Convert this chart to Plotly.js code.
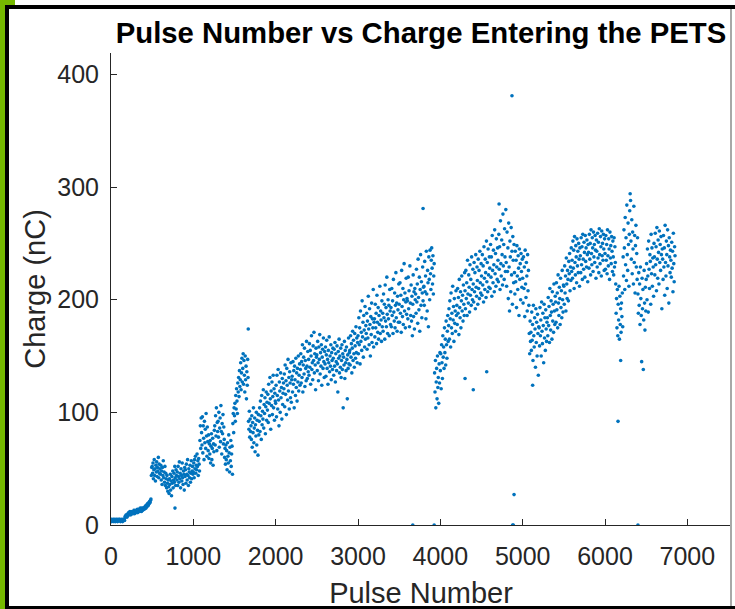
<!DOCTYPE html>
<html>
<head>
<meta charset="utf-8">
<script src="https://cdn.plot.ly/plotly-3.0.1.min.js"></script>
<style>
  html, body { margin: 0; padding: 0; background: #ffffff; }
  #wrap { position: relative; width: 735px; height: 609px; overflow: hidden; }
  #chart { position: absolute; left: 0; top: 0; width: 735px; height: 609px; }
  .edge { position: absolute; pointer-events: none; }
</style>
</head>
<body>
<div id="wrap">
  <div id="chart"></div>
  <div class="edge" style="left:0;top:0;width:5px;height:609px;background:#76b900;"></div>
  <div class="edge" style="left:0;top:0;width:15px;height:5px;background:#76b900;"></div>
  <div class="edge" style="left:5px;top:5px;width:730px;height:4px;background:#000;"></div>
  <div class="edge" style="left:5px;top:5px;width:4px;height:604px;background:#000;"></div>
  <div class="edge" style="left:5px;top:606px;width:730px;height:3px;background:#000;"></div>
  <div class="edge" style="left:730px;top:9px;width:2px;height:597px;background:#a8a8a8;"></div>
</div>
<script>
// Pulse numbers and measured charge (nC), grouped in blocks of 1000 pulses.
const pulse0 = [
  0,5,10,15,20,25,30,35,40,45,50,55,60,65,70,75,80,85,90,95,
  100,105,110,115,120,125,130,135,140,145,150,155,160,165,170,175,180,185,190,195,
  200,205,210,215,220,225,230,235,240,245,250,255,260,265,270,275,280,285,290,295,
  300,305,310,315,320,325,330,335,340,345,350,355,360,365,370,375,380,385,390,395,
  400,405,410,415,420,425,430,435,440,445,450,455,460,465,470,475,480,485,490,495,
  500,505,510,515,520,525,530,535,540,545,550,555,560,565,570,575,580,585,590,595,
  600,605,610,615,620,625,630,635,640,645,650,655,660,665,670,675,680,685,690,695,
  700,705,710,715,720,725,730,735,740,745,750,755,760,765,770,775,780,785,790,795,
  800,805,810,815,820,825,830,835,840,845,850,855,860,865,870,875,880,885,890,895,
  900,905,910,915,920,925,930,935,940,945,950,955,960,965,970,975,980,985,990,995
];
const charge0 = [
  4,5,3,4,4,5,4,3,5,4,4,3,5,4,4,5,3,4,4,5,
  4,5,4,3,4,5,4,4,3,5,4,4,5,4,7,8,7,9,8,7,
  8,10,9,11,9,10,12,10,9,11,10,12,11,10,12,11,13,10,12,11,
  12,11,13,12,14,11,13,12,14,13,12,15,13,14,12,15,14,13,15,14,
  15,14,16,15,17,15,16,18,17,19,17,18,20,19,21,20,22,23,44,51,
  52,46,55,41,49,58,44,50,39,53,47,56,43,51,48,60,42,54,46,50,
  45,53,40,48,36,51,44,57,42,47,38,52,35,46,41,33,44,37,30,40,
  34,28,41,36,45,31,39,26,43,37,48,33,40,46,38,52,42,35,49,44,
  40,47,35,52,43,38,56,41,46,33,50,44,39,55,42,36,48,45,31,51,
  43,49,37,54,45,40,58,44,35,50,47,42,53,38,46,57,41,48,52,45
];

const pulse1 = [
  1000,1005,1010,1015,1020,1025,1030,1035,1040,1045,1050,1055,1060,1065,1070,1075,1080,1085,1090,1095,
  1100,1105,1110,1115,1120,1125,1130,1135,1140,1145,1150,1155,1160,1165,1170,1175,1180,1185,1190,1195,
  1200,1205,1210,1215,1220,1225,1230,1235,1240,1245,1250,1255,1260,1265,1270,1275,1280,1285,1290,1295,
  1300,1305,1310,1315,1320,1325,1330,1335,1340,1345,1350,1355,1360,1365,1370,1375,1380,1385,1390,1395,
  1400,1405,1410,1415,1420,1425,1430,1435,1440,1445,1450,1455,1460,1465,1470,1475,1480,1485,1490,1495,
  1500,1505,1510,1515,1520,1525,1530,1535,1540,1545,1550,1555,1560,1565,1570,1575,1580,1585,1590,1595,
  1600,1605,1610,1615,1620,1625,1630,1635,1640,1645,1650,1655,1660,1665,1670,1675,1680,1685,1690,1695,
  1700,1705,1710,1715,1720,1725,1730,1735,1740,1745,1750,1755,1760,1765,1770,1775,1780,1785,1790,1795,
  1800,1805,1810,1815,1820,1825,1830,1835,1840,1845,1850,1855,1860,1865,1870,1875,1880,1885,1890,1895,
  1900,1905,1910,1915,1920,1925,1930,1935,1940,1945,1950,1955,1960,1965,1970,1975,1980,1985,1990,1995
];
const charge1 = [
  47,55,42,58,50,61,46,53,49,63,52,57,44,59,54,48,75,88,68,95,
  82,71,96,64,88,77,58,92,73,85,68,99,79,61,87,74,66,80,59,72,
  63,75,55,70,81,58,68,77,53,72,65,84,88,71,97,79,104,66,91,83,
  92,78,100,69,86,95,74,106,83,63,90,81,98,72,87,76,60,68,54,71,
  58,66,49,73,61,55,80,64,47,69,57,75,52,63,70,45,90,99,82,104,
  97,108,92,115,103,121,110,99,126,118,131,114,137,123,129,144,120,135,148,127,
  139,152,125,146,133,118,150,129,141,112,136,124,147,131,92,85,101,78,94,83,
  88,76,97,69,91,82,104,73,86,95,65,89,79,100,71,93,84,62,98,80,
  92,104,83,110,97,76,115,89,101,94,120,86,107,99,113,81,105,118,93,109,
  102,116,91,125,108,97,131,112,85,119,106,127,98,114,133,104,121,93,117,110
];

const pulse2 = [
  2000,2005,2010,2015,2020,2025,2030,2035,2040,2045,2050,2055,2060,2065,2070,2075,2080,2085,2090,2095,
  2100,2105,2110,2115,2120,2125,2130,2135,2140,2145,2150,2155,2160,2165,2170,2175,2180,2185,2190,2195,
  2200,2205,2210,2215,2220,2225,2230,2235,2240,2245,2250,2255,2260,2265,2270,2275,2280,2285,2290,2295,
  2300,2305,2310,2315,2320,2325,2330,2335,2340,2345,2350,2355,2360,2365,2370,2375,2380,2385,2390,2395,
  2400,2405,2410,2415,2420,2425,2430,2435,2440,2445,2450,2455,2460,2465,2470,2475,2480,2485,2490,2495,
  2500,2505,2510,2515,2520,2525,2530,2535,2540,2545,2550,2555,2560,2565,2570,2575,2580,2585,2590,2595,
  2600,2605,2610,2615,2620,2625,2630,2635,2640,2645,2650,2655,2660,2665,2670,2675,2680,2685,2690,2695,
  2700,2705,2710,2715,2720,2725,2730,2735,2740,2745,2750,2755,2760,2765,2770,2775,2780,2785,2790,2795,
  2800,2805,2810,2815,2820,2825,2830,2835,2840,2845,2850,2855,2860,2865,2870,2875,2880,2885,2890,2895,
  2900,2905,2910,2915,2920,2925,2930,2935,2940,2945,2950,2955,2960,2965,2970,2975,2980,2985,2990,2995
];
const charge2 = [
  108,124,96,133,115,103,138,111,88,127,119,100,135,113,122,94,130,107,117,126,
  121,134,105,142,116,128,98,139,124,111,147,119,131,103,136,126,113,144,109,129,
  132,118,145,125,137,104,141,129,115,148,122,135,110,139,127,150,119,133,143,124,
  138,152,126,145,131,160,118,142,149,134,157,123,146,139,128,163,141,130,154,136,
  147,133,161,140,155,125,150,168,138,144,129,159,146,171,135,152,142,120,157,149,
  151,137,163,144,128,158,147,169,134,153,141,160,124,149,156,139,166,145,131,154,
  143,158,132,151,164,139,147,125,155,144,167,136,150,141,160,129,153,146,138,157,
  148,133,156,141,162,127,152,145,137,159,143,118,154,148,165,135,150,140,157,131,
  146,160,138,152,104,149,142,163,130,155,144,137,158,147,112,151,139,166,143,153,
  155,142,168,149,161,135,157,172,146,164,152,140,170,159,148,176,153,166,144,162
];

const pulse3 = [
  3000,3005,3010,3015,3020,3025,3030,3035,3040,3045,3050,3055,3060,3065,3070,3075,3080,3085,3090,3095,
  3100,3105,3110,3115,3120,3125,3130,3135,3140,3145,3150,3155,3160,3165,3170,3175,3180,3185,3190,3195,
  3200,3205,3210,3215,3220,3225,3230,3235,3240,3245,3250,3255,3260,3265,3270,3275,3280,3285,3290,3295,
  3300,3305,3310,3315,3320,3325,3330,3335,3340,3345,3350,3355,3360,3365,3370,3375,3380,3385,3390,3395,
  3400,3405,3410,3415,3420,3425,3430,3435,3440,3445,3450,3455,3460,3465,3470,3475,3480,3485,3490,3495,
  3500,3505,3510,3515,3520,3525,3530,3535,3540,3545,3550,3555,3560,3565,3570,3575,3580,3585,3590,3595,
  3600,3605,3610,3615,3620,3625,3630,3635,3640,3645,3650,3655,3660,3665,3670,3675,3680,3685,3690,3695,
  3700,3705,3710,3715,3720,3725,3730,3735,3740,3745,3750,3755,3760,3765,3770,3775,3780,3785,3790,3795,
  3800,3805,3810,3815,3820,3825,3830,3835,3840,3845,3850,3855,3860,3865,3870,3875,3880,3885,3890,3895,
  3900,3905,3910,3915,3920,3925,3930,3935,3940,3945,3950,3955,3960,3965,3970,3975,3980,3985,3990,3995
];
const charge3 = [
  168,152,184,160,175,143,190,163,171,155,199,167,180,149,186,173,158,194,165,177,
  170,188,156,181,166,203,174,160,192,178,150,185,169,197,162,183,175,209,158,180,
  183,167,196,175,188,161,204,180,171,193,165,186,178,212,170,190,182,163,199,176,
  188,172,205,184,196,165,213,181,193,176,220,187,170,200,183,195,168,209,190,178,
  193,176,210,186,199,170,218,189,181,206,175,195,224,184,197,172,203,191,180,214,
  196,180,215,188,204,171,226,194,185,210,178,200,232,190,206,175,198,219,187,201,
  199,183,220,192,208,176,230,197,186,213,181,203,168,196,222,185,207,174,210,200,
  205,188,227,198,214,179,236,202,191,220,172,209,240,195,216,184,206,229,199,211,
  212,195,234,207,221,183,243,205,190,226,215,176,238,218,200,244,223,209,235,246,
  228,214,239,205,221,232,135,118,146,104,127,139,112,150,122,131,108,143,126,153
];

const pulse4 = [
  4000,4005,4010,4015,4020,4025,4030,4035,4040,4045,4050,4055,4060,4065,4070,4075,4080,4085,4090,4095,
  4100,4105,4110,4115,4120,4125,4130,4135,4140,4145,4150,4155,4160,4165,4170,4175,4180,4185,4190,4195,
  4200,4205,4210,4215,4220,4225,4230,4235,4240,4245,4250,4255,4260,4265,4270,4275,4280,4285,4290,4295,
  4300,4305,4310,4315,4320,4325,4330,4335,4340,4345,4350,4355,4360,4365,4370,4375,4380,4385,4390,4395,
  4400,4405,4410,4415,4420,4425,4430,4435,4440,4445,4450,4455,4460,4465,4470,4475,4480,4485,4490,4495,
  4500,4505,4510,4515,4520,4525,4530,4535,4540,4545,4550,4555,4560,4565,4570,4575,4580,4585,4590,4595,
  4600,4605,4610,4615,4620,4625,4630,4635,4640,4645,4650,4655,4660,4665,4670,4675,4680,4685,4690,4695,
  4700,4705,4710,4715,4720,4725,4730,4735,4740,4745,4750,4755,4760,4765,4770,4775,4780,4785,4790,4795,
  4800,4805,4810,4815,4820,4825,4830,4835,4840,4845,4850,4855,4860,4865,4870,4875,4880,4885,4890,4895,
  4900,4905,4910,4915,4920,4925,4930,4935,4940,4945,4950,4955,4960,4965,4970,4975,4980,4985,4990,4995
];
const charge4 = [
  137,152,121,160,144,130,168,149,158,139,175,153,165,142,181,160,148,172,186,163,
  177,192,165,199,183,158,206,175,188,170,212,182,194,163,201,179,190,172,208,186,
  195,178,210,188,202,169,218,193,184,207,175,199,221,190,204,181,213,196,186,224,
  208,192,226,201,215,186,235,205,197,222,211,189,231,204,218,195,238,209,200,227,
  214,198,233,207,224,192,240,211,203,229,217,196,236,210,226,201,243,215,206,232,
  221,204,240,213,230,198,247,219,209,236,224,202,252,216,233,207,245,222,211,238,
  228,210,249,220,238,203,257,226,215,244,231,207,262,223,241,212,254,229,218,246,
  235,216,258,227,247,209,270,232,221,253,240,213,276,230,249,218,263,238,225,280,
  233,212,260,225,246,201,268,229,190,252,238,207,264,222,243,196,256,235,215,249,
  224,205,243,216,235,193,248,221,209,239,228,186,245,218,232,200,241,225,211,236
];

const pulse5 = [
  5000,5005,5010,5015,5020,5025,5030,5035,5040,5045,5050,5055,5060,5065,5070,5075,5080,5085,5090,5095,
  5100,5105,5110,5115,5120,5125,5130,5135,5140,5145,5150,5155,5160,5165,5170,5175,5180,5185,5190,5195,
  5200,5205,5210,5215,5220,5225,5230,5235,5240,5245,5250,5255,5260,5265,5270,5275,5280,5285,5290,5295,
  5300,5305,5310,5315,5320,5325,5330,5335,5340,5345,5350,5355,5360,5365,5370,5375,5380,5385,5390,5395,
  5400,5405,5410,5415,5420,5425,5430,5435,5440,5445,5450,5455,5460,5465,5470,5475,5480,5485,5490,5495,
  5500,5505,5510,5515,5520,5525,5530,5535,5540,5545,5550,5555,5560,5565,5570,5575,5580,5585,5590,5595,
  5600,5605,5610,5615,5620,5625,5630,5635,5640,5645,5650,5655,5660,5665,5670,5675,5680,5685,5690,5695,
  5700,5705,5710,5715,5720,5725,5730,5735,5740,5745,5750,5755,5760,5765,5770,5775,5780,5785,5790,5795,
  5800,5805,5810,5815,5820,5825,5830,5835,5840,5845,5850,5855,5860,5865,5870,5875,5880,5885,5890,5895,
  5900,5905,5910,5915,5920,5925,5930,5935,5940,5945,5950,5955,5960,5965,5970,5975,5980,5985,5990,5995
];
const charge5 = [
  219,197,238,210,229,185,244,214,202,233,221,190,240,208,226,195,170,152,181,163,
  171,155,189,164,178,146,195,168,158,184,174,140,192,162,180,150,187,170,133,176,
  175,159,193,168,182,150,198,172,161,188,177,144,196,166,184,155,191,174,163,180,
  184,168,202,177,194,162,210,186,173,199,189,165,207,181,196,171,214,190,178,203,
  198,180,215,191,206,175,222,197,186,211,201,178,219,193,208,184,226,200,189,213,
  212,196,230,206,221,190,237,214,201,226,218,199,234,223,241,208,229,217,246,225,
  235,219,252,228,244,210,256,233,222,248,238,215,254,230,243,224,250,236,212,246,
  239,224,255,231,247,218,258,236,227,251,242,220,257,234,246,229,253,240,216,249,
  242,228,258,236,250,222,262,241,231,255,246,225,260,238,249,233,257,244,219,253,
  243,229,259,237,251,224,263,240,232,256,247,221,261,239,250,235,258,245,226,254
];

const pulse6 = [
  6000,6005,6010,6015,6020,6025,6030,6035,6040,6045,6050,6055,6060,6065,6070,6075,6080,6085,6090,6095,
  6100,6105,6110,6115,6120,6125,6130,6135,6140,6145,6150,6155,6160,6165,6170,6175,6180,6185,6190,6195,
  6200,6205,6210,6215,6220,6225,6230,6235,6240,6245,6250,6255,6260,6265,6270,6275,6280,6285,6290,6295,
  6300,6305,6310,6315,6320,6325,6330,6335,6340,6345,6350,6355,6360,6365,6370,6375,6380,6385,6390,6395,
  6400,6405,6410,6415,6420,6425,6430,6435,6440,6445,6450,6455,6460,6465,6470,6475,6480,6485,6490,6495,
  6500,6505,6510,6515,6520,6525,6530,6535,6540,6545,6550,6555,6560,6565,6570,6575,6580,6585,6590,6595,
  6600,6605,6610,6615,6620,6625,6630,6635,6640,6645,6650,6655,6660,6665,6670,6675,6680,6685,6690,6695,
  6700,6705,6710,6715,6720,6725,6730,6735,6740,6745,6750,6755,6760,6765,6770,6775,6780,6785,6790,6795,
  6800,6805,6810,6815,6820,6825,6830,6835,6840,6845,6850
];
const charge6 = [
  241,227,257,235,249,223,262,239,230,254,245,218,260,237,248,232,256,243,225,252,
  238,222,255,229,247,233,214,188,201,175,209,168,196,182,212,165,203,178,192,171,
  197,185,206,176,238,221,262,246,209,273,231,255,217,284,240,226,268,249,212,258,
  279,294,288,252,236,271,223,260,245,214,283,233,257,206,248,266,229,241,218,255,
  205,188,224,195,214,178,229,201,186,145,219,192,209,138,182,226,197,173,211,190,
  218,232,200,245,221,189,252,227,210,240,234,196,258,223,246,212,237,229,203,250,
  238,222,259,231,247,208,264,236,219,253,242,214,261,233,249,226,256,240,192,245,
  236,218,257,229,246,204,266,233,221,252,240,210,262,230,248,197,255,238,224,244,
  235,220,251,228,243,207,259,232,216,247,239
];

// Isolated readings away from the main cloud (including dropped pulses at 0 nC).
const strayPulse  = [777, 1667, 3665, 3790, 3925, 4300, 4400, 4563, 4713, 4870, 4878, 4886, 4895, 5121, 6158, 6190, 6400];
const strayCharge = [15, 174, 0, 281, 0, 130, 120, 136, 285, 381, 0, 0, 27, 124, 92, 146, 0];

const xTicks = [0, 1000, 2000, 3000, 4000, 5000, 6000, 7000];
const yTicks = [0, 100, 200, 300, 400];

const allPulse = [].concat(pulse0, pulse1, pulse2, pulse3, pulse4, pulse5, pulse6, strayPulse);
const allCharge = [].concat(charge0, charge1, charge2, charge3, charge4, charge5, charge6, strayCharge);

const axisInk = '#262626';
const fontFamily = 'Liberation Sans, Arial, Helvetica, sans-serif';

const trace = {
  type: 'scatter',
  mode: 'markers',
  x: allPulse,
  y: allCharge,
  marker: { color: '#0072BD', size: 3.6, line: { width: 0 } },
  hoverinfo: 'x+y'
};

const layout = {
  width: 735,
  height: 609,
  paper_bgcolor: 'rgba(0,0,0,0)',
  plot_bgcolor: '#ffffff',
  margin: { l: 111, r: 4, t: 53, b: 84, pad: 0 },
  showlegend: false,
  title: {
    text: '<b>Pulse Number vs Charge Entering the PETS</b>',
    font: { family: fontFamily, size: 29.3, color: '#000000' },
    xref: 'paper', x: 0.5, xanchor: 'center',
    yref: 'container', y: 1 - 33 / 609, yanchor: 'middle'
  },
  xaxis: {
    range: [0, 7530],
    tickvals: xTicks,
    ticktext: xTicks.map(String),
    ticks: 'inside', ticklen: 6, tickwidth: 1, tickcolor: axisInk,
    showline: true, linecolor: axisInk, linewidth: 1, mirror: false,
    showgrid: false, zeroline: false,
    tickfont: { family: fontFamily, size: 25, color: axisInk },
    ticklabelstandoff: 9,
    title: { text: 'Pulse Number', font: { family: fontFamily, size: 29, color: axisInk }, standoff: 16 }
  },
  yaxis: {
    range: [0, 419],
    tickvals: yTicks,
    ticktext: yTicks.map(String),
    ticks: 'inside', ticklen: 6, tickwidth: 1, tickcolor: axisInk,
    showline: true, linecolor: axisInk, linewidth: 1, mirror: false,
    showgrid: false, zeroline: false,
    tickfont: { family: fontFamily, size: 25, color: axisInk },
    ticklabelstandoff: 6,
    title: { text: 'Charge (nC)', font: { family: fontFamily, size: 29, color: axisInk }, standoff: 3 }
  }
};

Plotly.newPlot('chart', [trace], layout, { displayModeBar: false, staticPlot: true });
</script>
</body>
</html>
